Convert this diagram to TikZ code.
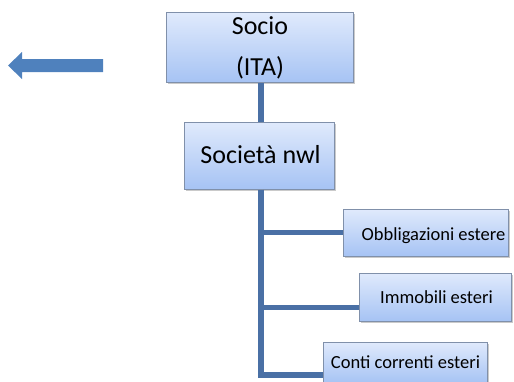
\documentclass[tikz,border=0pt]{standalone}
\usepackage{fontspec}
\setmainfont{Carlito}
\usetikzlibrary{shadows}
\definecolor{boxtop}{RGB}{224,234,252}
\definecolor{boxbot}{RGB}{166,195,244}
\definecolor{boxline}{RGB}{128,144,170}
\definecolor{conncol}{RGB}{74,112,165}
\definecolor{arrowcol}{RGB}{79,129,189}
\tikzset{
  box/.style={draw=boxline, line width=1pt, top color=boxtop, bottom color=boxbot,
    inner sep=0pt, drop shadow={shadow xshift=1.5pt, shadow yshift=-1.5pt, opacity=0.35, fill=black!60}},
  bigtxt/.style={font=\fontsize{26}{30}\selectfont, inner sep=0pt, anchor=base},
  smalltxt/.style={font=\fontsize{18.5}{22}\selectfont, inner sep=0pt, anchor=base},
  trunk/.style={draw=conncol, line width=6pt},
  branch/.style={draw=conncol, line width=5pt},
}
\begin{document}
\begin{tikzpicture}[x=1pt,y=-1pt]
\useasboundingbox (0,0) rectangle (514,381);
% boxes
\node[box, minimum width=187pt, minimum height=70pt] (socio) at (259.5,47.5) {};
\node[box, minimum width=150pt, minimum height=67pt] (societa) at (259,155.5) {};
\node[box, minimum width=165pt, minimum height=47pt] (obb) at (425.5,232.5) {};
\node[box, minimum width=152pt, minimum height=48pt] (imm) at (435,297) {};
\node[box, minimum width=164pt, minimum height=41pt] (conti) at (405,362.5) {};
% texts
\node[bigtxt] (t1) at (260,34) {Socio};
\node[bigtxt] (t2) at (260,75) {(ITA)};
\node[bigtxt] (t3) at (260.5,163) {Società nwl};
\node[smalltxt] (t4) at (433.5,240) {Obbligazioni estere};
\node[smalltxt] (t5) at (436.5,303) {Immobili esteri};
\node[smalltxt] (t6) at (405.5,368) {Conti correnti esteri};
% connectors
\coordinate (b1) at (261,232);
\coordinate (b2) at (261,307);
\coordinate (b3) at (261,375);
\draw[trunk] (socio.south -| b1) -- (societa.north -| b1);
\draw[trunk] (societa.south -| b3) -- (b3) -- (b3 -| conti.west);
\draw[branch] (b1) -- (b1 -| obb.west);
\draw[branch] (b2) -- (b2 -| imm.west);
% left arrow
\fill[arrowcol] (8,65.5) -- (22,52) -- (22,59) -- (103,59) -- (103,72) -- (22,72) -- (22,79) -- cycle;
\end{tikzpicture}
\end{document}
